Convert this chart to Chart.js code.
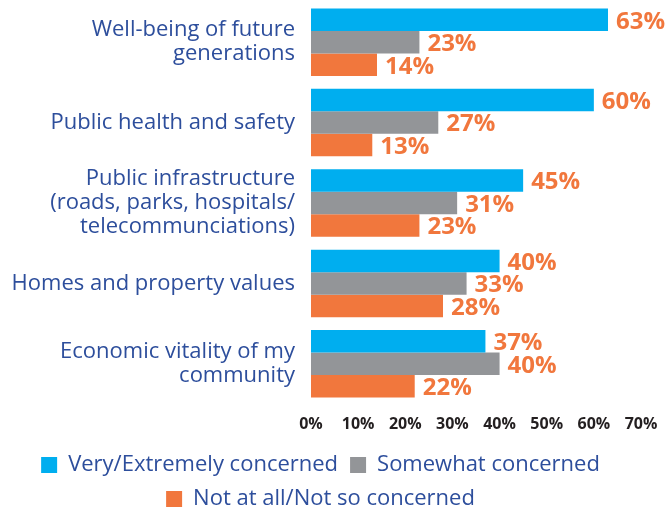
<!DOCTYPE html>
<html>
<head>
<meta charset="utf-8">
<script src="https://cdn.jsdelivr.net/npm/chart.js@4"></script>
<style>
  html, body { margin: 0; padding: 0; background: #fff; }
  #wrap { width: 672px; height: 512px; }
</style>
</head>
<body>
<div id="wrap"><canvas id="chart"></canvas></div>
<script>
const categories = [
  ['Well-being of future', 'generations'],
  ['Public health and safety'],
  ['Public infrastructure', '(roads, parks, hospitals/', 'telecommunciations)'],
  ['Homes and property values'],
  ['Economic vitality of my', 'community']
];
const seriesNames = ['Very/Extremely concerned', 'Somewhat concerned', 'Not at all/Not so concerned'];
const veryConcerned = [63, 60, 45, 40, 37];
const somewhatConcerned = [23, 27, 31, 33, 40];
const notConcerned = [14, 13, 23, 28, 22];
const xTicks = [0, 10, 20, 30, 40, 50, 60, 70];

const BLUE = '#00aeef';
const GREY = '#939598';
const ORANGE = '#f1773d';
const NAVY = '#2d4e9c';
const FONT = 'Open Sans';

// percent labels just past the end of each bar
const valueLabels = {
  id: 'valueLabels',
  afterDatasetsDraw(chart) {
    const ctx = chart.ctx;
    ctx.save();
    ctx.font = 'bold 24px "' + FONT + '"';
    ctx.fillStyle = ORANGE;
    ctx.textBaseline = 'middle';
    ctx.textAlign = 'left';
    chart.data.datasets.forEach((ds, i) => {
      chart.getDatasetMeta(i).data.forEach((bar, j) => {
        ctx.fillText(ds.data[j] + '%', bar.x + 8, bar.y + 2);
      });
    });
    ctx.restore();
  }
};

new Chart(document.getElementById('chart'), {
  type: 'bar',
  data: {
    labels: categories,
    datasets: [
      { label: seriesNames[0], data: veryConcerned, backgroundColor: BLUE },
      { label: seriesNames[1], data: somewhatConcerned, backgroundColor: GREY },
      { label: seriesNames[2], data: notConcerned, backgroundColor: ORANGE }
    ]
  },
  options: {
    indexAxis: 'y',
    responsive: true,
    maintainAspectRatio: false,
    animation: false,
    // legend hangs a little below the canvas edge so its rows sit low
    layout: { padding: { top: 2, right: 31, left: 0, bottom: -8 } },
    datasets: {
      bar: { categoryPercentage: 0.84, barPercentage: 1.0 }
    },
    plugins: {
      legend: {
        position: 'bottom',
        labels: {
          boxWidth: 16,
          boxHeight: 16,
          padding: 12,
          color: NAVY,
          font: { family: FONT, size: 22 }
        }
      },
      tooltip: { enabled: false }
    },
    scales: {
      x: {
        min: xTicks[0],
        max: xTicks[xTicks.length - 1],
        afterBuildTicks: s => { s.ticks = xTicks.map(v => ({ value: v })); },
        afterFit: s => { s.height = 38; s.paddingLeft = 0; s.paddingRight = 0; },
        grid: { display: false, drawTicks: false },
        border: { display: false },
        ticks: {
          padding: 11,
          color: '#231f20',
          font: { family: FONT, size: 16, weight: 'bold' },
          callback: v => v + '%'
        }
      },
      y: {
        afterFit: s => { s.width = 311; s.paddingTop = 0; s.paddingBottom = 0; },
        grid: { display: false, drawTicks: false },
        border: { display: false },
        ticks: {
          autoSkip: false,
          padding: 16,
          color: NAVY,
          font: { family: FONT, size: 22, lineHeight: 1.09 }
        }
      }
    }
  },
  plugins: [valueLabels]
});
</script>
</body>
</html>
